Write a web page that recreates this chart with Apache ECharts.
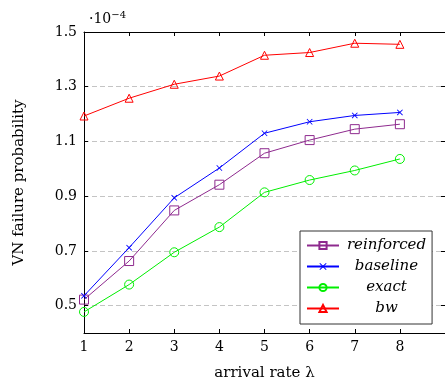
<!DOCTYPE html>
<html>
<head>
<meta charset="utf-8">
<script src="https://cdn.jsdelivr.net/npm/echarts@6/dist/echarts.min.js"></script>
<style>
  html, body { margin: 0; padding: 0; background: #fff; }
  #chart { width: 445px; height: 383px; }
</style>
</head>
<body>
<div id="chart"></div>
<script>
// arrival rate λ
const rates = [1, 2, 3, 4, 5, 6, 7, 8];
// failure probability, in units of 1e-4
const reinforced = [0.522, 0.663, 0.848, 0.942, 1.057, 1.105, 1.145, 1.163];
const baseline = [0.536, 0.712, 0.894, 1.003, 1.130, 1.172, 1.195, 1.206];
const exact = [0.477, 0.577, 0.695, 0.787, 0.914, 0.959, 0.994, 1.036];
const bw = [1.193, 1.258, 1.309, 1.339, 1.415, 1.425, 1.459, 1.455];
const yTicks = [0.5, 0.7, 0.9, 1.1, 1.3, 1.5];

const serif = "DejaVu Serif";
const crossPath = "path://M0,1L1,0L5,4L9,0L10,1L6,5L10,9L9,10L5,6L1,10L0,9L4,5Z";

function pts(arr) {
  return rates.map((r, i) => [r, arr[i]]);
}

function line(name, data, color, symbol, size) {
  return {
    name: name,
    type: "line",
    data: pts(data),
    symbol: symbol,
    symbolSize: size,
    showSymbol: true,
    lineStyle: { color: color, width: 1 },
    itemStyle: {
      color: symbol === crossPath ? color : "rgba(255,255,255,0)",
      borderColor: color,
      borderWidth: symbol === crossPath ? 0 : 1,
    },
    emphasis: { disabled: true },
    z: 3,
  };
}

let myChart = echarts.init(document.getElementById("chart"));
myChart.setOption({
  animation: false,
  title: {
    text: "·10{sup|−4}",
    left: 84,
    top: 5,
    textStyle: {
      fontFamily: serif,
      fontSize: 14,
      fontWeight: "normal",
      color: "#000",
      rich: {
        sup: { fontFamily: serif, fontSize: 10, verticalAlign: "top", padding: [0, 0, 8, 0] },
      },
    },
  },
  legend: {
    orient: "vertical",
    left: 300,
    top: 231,
    width: 135,
    padding: [7, 6, 8, 6],
    itemGap: 6,
    itemWidth: 32,
    itemHeight: 9,
    backgroundColor: "#fff",
    borderColor: "#333",
    borderWidth: 1,
    formatter: "{c|{name}}",
    textStyle: {
      fontFamily: serif,
      fontStyle: "italic",
      fontSize: 15,
      color: "#000",
      rich: {
        c: { fontFamily: serif, fontStyle: "italic", fontSize: 15, width: 85, height: 16, align: "center" },
      },
    },
    data: ["reinforced", "baseline", "exact", "bw"],
  },
  grid: {
    left: 84,
    top: 32,
    right: 0,
    bottom: 50,
    outerBoundsMode: "none",
    show: false,
  },
  xAxis: [
    {
      type: "value",
      min: 1,
      max: 9,
      name: "arrival rate λ",
      nameLocation: "middle",
      nameGap: 33,
      nameTextStyle: { fontFamily: serif, fontSize: 15, color: "#000" },
      axisLine: { show: true, lineStyle: { color: "#000", width: 1 } },
      axisTick: { show: true, inside: true, length: 4, lineStyle: { color: "#000" }, customValues: rates },
      axisLabel: { fontFamily: serif, fontSize: 14, color: "#000", margin: 7, customValues: rates },
      splitLine: { show: false },
    },
    {
      type: "value",
      position: "top",
      min: 1,
      max: 9,
      axisLine: { show: true, onZero: false, lineStyle: { color: "#000", width: 1 } },
      axisTick: { show: true, inside: true, length: 4, lineStyle: { color: "#000" }, customValues: rates },
      axisLabel: { show: false },
      splitLine: { show: false },
    },
  ],
  yAxis: [
    {
      type: "value",
      min: 0.4,
      max: 1.5,
      name: "VN failure probability",
      nameLocation: "middle",
      nameGap: 57,
      nameTextStyle: { fontFamily: serif, fontSize: 15, color: "#000" },
      axisLine: { show: true, lineStyle: { color: "#000", width: 1 } },
      axisTick: { show: true, inside: true, length: 4, lineStyle: { color: "#000" }, customValues: yTicks },
      axisLabel: {
        fontFamily: serif,
        fontSize: 14,
        color: "#000",
        margin: 7,
        customValues: yTicks,
        formatter: (v) => v.toFixed(1),
      },
      splitLine: {
        show: true,
        lineStyle: { color: "#c4c4c4", type: [5, 3], width: 1 },
      },
    },
    {
      type: "value",
      position: "right",
      min: 0.4,
      max: 1.5,
      axisLine: { show: true, onZero: false, lineStyle: { color: "#000", width: 1 } },
      axisTick: { show: true, inside: true, length: 4, lineStyle: { color: "#000" }, customValues: yTicks },
      axisLabel: { show: false },
      splitLine: { show: false },
    },
  ],
  series: [
    line("reinforced", reinforced, "#8e2a8e", "rect", 9),
    line("baseline", baseline, "#0000ff", crossPath, 6),
    line("exact", exact, "#00ee00", "circle", 9),
    line("bw", bw, "#ff0000", "triangle", 8),
  ],
});
</script>
</body>
</html>
